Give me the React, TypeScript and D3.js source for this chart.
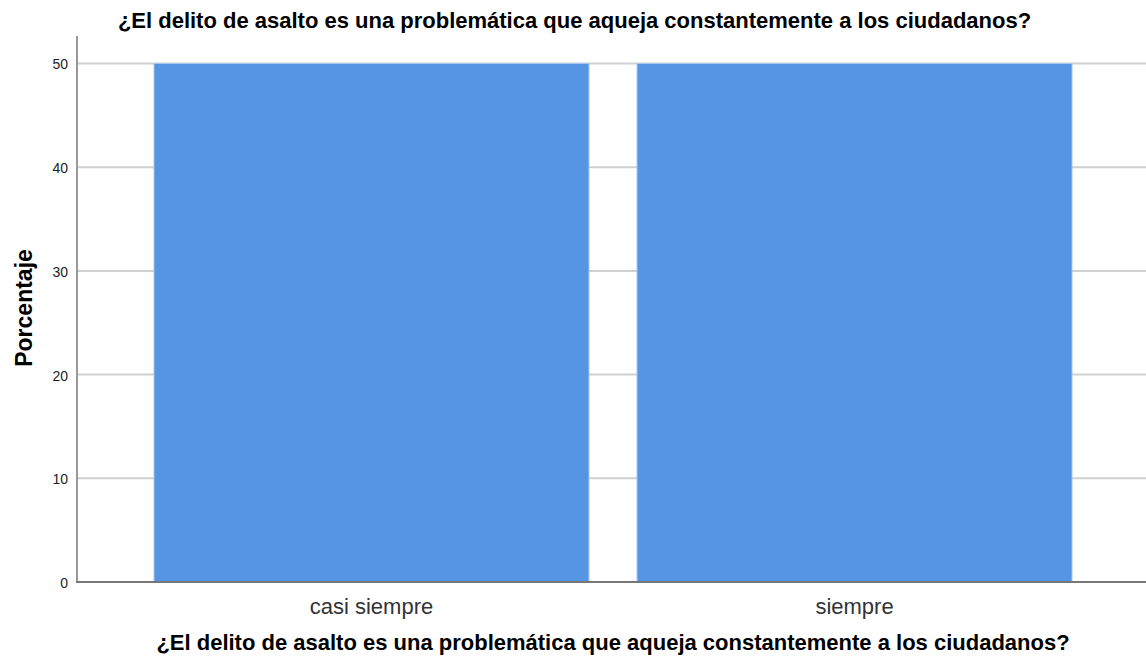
import React from "react";
import * as d3 from "d3";

const categories = ["casi siempre", "siempre"];
const percentages = [50, 50];
const yTicks = [0, 10, 20, 30, 40, 50];

const title = "¿El delito de asalto es una problemática que aqueja constantemente a los ciudadanos?";

const width = 1146;
const height = 661;
const margin = { top: 36, right: 0, bottom: 79, left: 77 };

const App = () => {
  const yScale = d3
    .scaleLinear()
    .domain([0, 52.65])
    .range([height - margin.bottom, margin.top]);

  const xScale = d3
    .scaleBand()
    .domain(categories)
    .range([margin.left, 1149])
    .paddingInner(0.0994)
    .paddingOuter(0.1594);

  const y0 = yScale(0);

  return (
    <svg
      width={width}
      height={height}
      style={{ position: "absolute", left: 0, top: 0, fontFamily: "'Liberation Sans', Arial, sans-serif" }}
    >
      <rect width={width} height={height} fill="#fff" />
      <text x={574.5} y={27.5} textAnchor="middle" fontSize={22} fontWeight="bold" fill="#000">
        {title}
      </text>

      {/* gridlines */}
      {yTicks
        .filter((t) => t > 0)
        .map((t) => (
          <line
            key={t}
            x1={margin.left}
            x2={width}
            y1={yScale(t)}
            y2={yScale(t)}
            stroke="#d0d0d0"
            strokeWidth={2}
          />
        ))}

      {/* bars */}
      {categories.map((c, i) => (
        <rect
          key={c}
          x={xScale(c)}
          y={yScale(percentages[i])}
          width={xScale.bandwidth()}
          height={y0 - yScale(percentages[i])}
          fill="#5595e4"
          stroke="#a9c8f0"
          strokeWidth={1}
        />
      ))}

      {/* axes */}
      <line x1={margin.left} x2={margin.left} y1={margin.top} y2={y0} stroke="#999" strokeWidth={2} />
      <line x1={margin.left - 1} x2={width} y1={y0} y2={y0} stroke="#777" strokeWidth={2} />

      {yTicks.map((t) => (
        <text key={t} x={68} y={yScale(t) + 6} textAnchor="end" fontSize={14} fill="#222">
          {t}
        </text>
      ))}

      {categories.map((c) => (
        <text
          key={c}
          x={(xScale(c) ?? 0) + xScale.bandwidth() / 2}
          y={614}
          textAnchor="middle"
          fontSize={22}
          fill="#333"
        >
          {c}
        </text>
      ))}

      <text x={613} y={650} textAnchor="middle" fontSize={22} fontWeight="bold" fill="#000">
        {title}
      </text>

      <text
        transform={`translate(32, ${308}) rotate(-90)`}
        textAnchor="middle"
        fontSize={23}
        fontWeight="bold"
        fill="#000"
      >
        Porcentaje
      </text>
    </svg>
  );
};

export default App;
